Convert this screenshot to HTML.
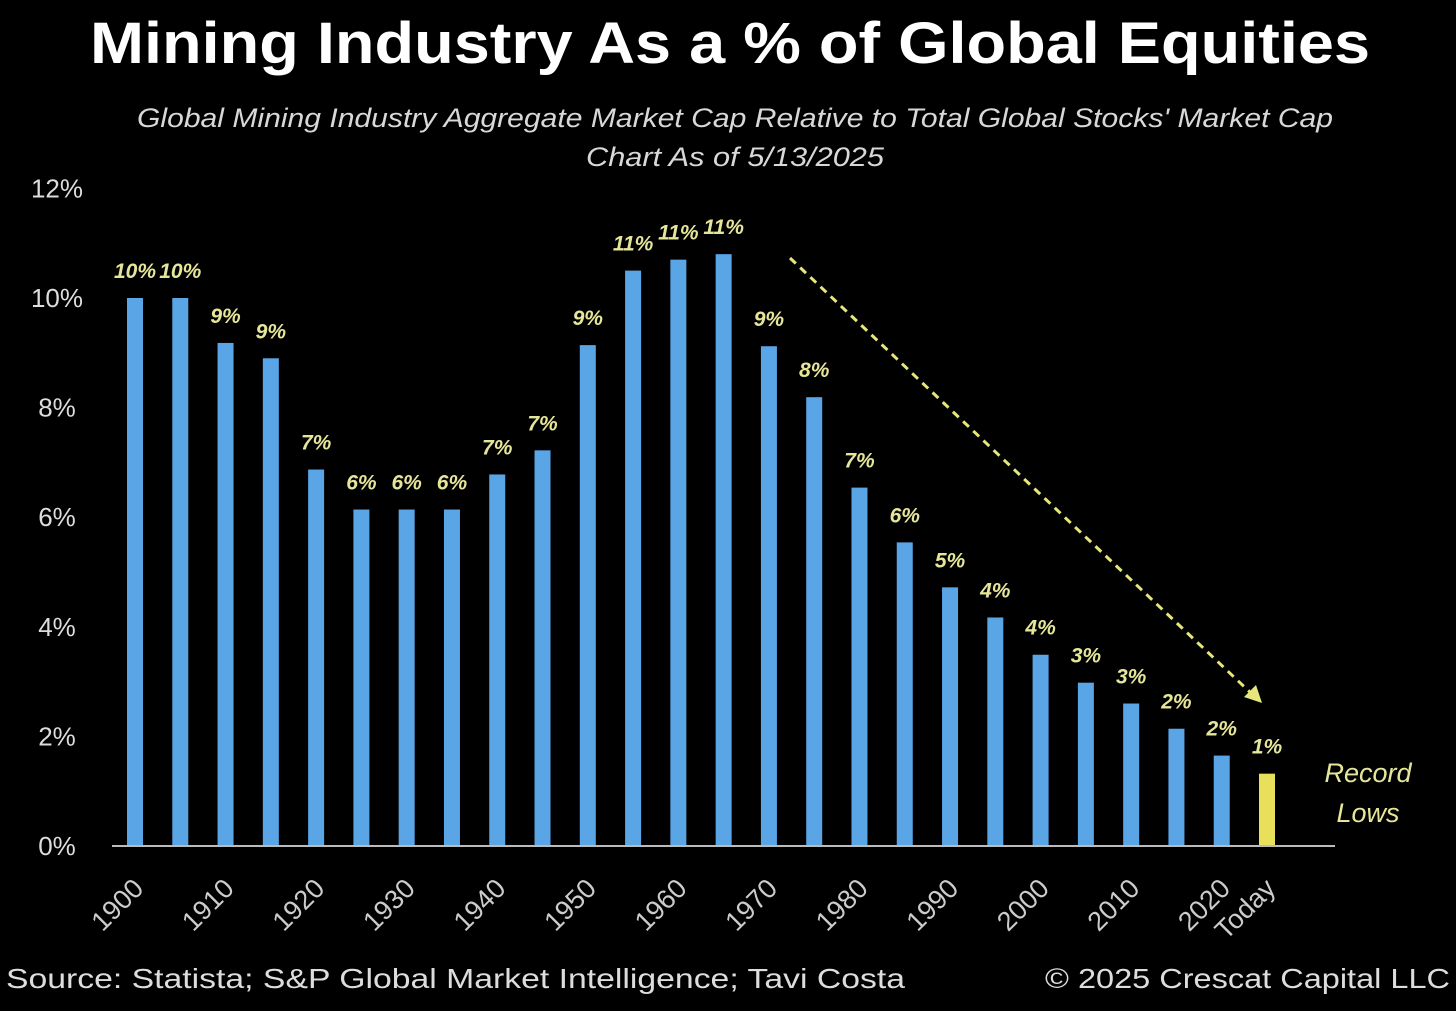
<!DOCTYPE html>
<html><head><meta charset="utf-8">
<style>
html,body{margin:0;padding:0;background:#000;}
body{width:1456px;height:1006px;overflow:hidden;font-family:"Liberation Sans",sans-serif;}
</style></head>
<body>
<svg id="chart" width="1456" height="1006" xmlns="http://www.w3.org/2000/svg">
<rect width="1456" height="1006" fill="#000"/>
<text x="90" y="63" textLength="1280" lengthAdjust="spacingAndGlyphs" fill="#fff" font-weight="bold" font-size="58" font-family="Liberation Sans, sans-serif">Mining Industry As a % of Global Equities</text>
<text x="137" y="127" textLength="1196" lengthAdjust="spacingAndGlyphs" fill="#d8d8d8" font-style="italic" font-size="27">Global Mining Industry Aggregate Market Cap Relative to Total Global Stocks' Market Cap</text>
<text x="586" y="166" textLength="298" lengthAdjust="spacingAndGlyphs" fill="#d8d8d8" font-style="italic" font-size="27">Chart As of 5/13/2025</text>
<g id="yaxis"></g>
<g id="bars"></g>
<g id="xaxis"></g>
<line x1="112" y1="846" x2="1335" y2="846" stroke="#bbb" stroke-width="2"/>
<line x1="790" y1="258" x2="1252" y2="694" stroke="#e6e67a" stroke-width="3" stroke-dasharray="8,6"/>
<polygon points="1262,703 1244,697 1256,685" fill="#e6e67a"/>
<text fill="#e6e69a" font-style="italic" font-size="27" text-anchor="middle"><tspan x="1368" y="782">Record</tspan><tspan x="1368" y="822">Lows</tspan></text>
<text x="6" y="988" textLength="899" lengthAdjust="spacingAndGlyphs" fill="#ddd" font-size="28">Source: Statista; S&amp;P Global Market Intelligence; Tavi Costa</text>
<text x="1045" y="988" textLength="405" lengthAdjust="spacingAndGlyphs" fill="#ddd" font-size="28">© 2025 Crescat Capital LLC</text>
</svg>
<script>
const categories=["1900","1905","1910","1915","1920","1925","1930","1935","1940","1945","1950","1955","1960","1965","1970","1975","1980","1985","1990","1995","2000","2005","2010","2015","2020","Today"];
const values=[10.0,10.0,9.18,8.9,6.87,6.14,6.14,6.14,6.78,7.22,9.14,10.5,10.7,10.8,9.12,8.19,6.54,5.54,4.72,4.17,3.49,2.98,2.6,2.14,1.65,1.32];
const valueLabels=["10%","10%","9%","9%","7%","6%","6%","6%","7%","7%","9%","11%","11%","11%","9%","8%","7%","6%","5%","4%","4%","3%","3%","2%","2%","1%"];
const xTickLabels=["1900","","1910","","1920","","1930","","1940","","1950","","1960","","1970","","1980","","1990","","2000","","2010","","2020","Today"];
const yTicks=[0,2,4,6,8,10,12];
const NS="http://www.w3.org/2000/svg";
function y(v){return 846-v*54.8;}
function x(i){return 135+i*45.28;}
function mk(tag,attrs,parent){const e=document.createElementNS(NS,tag);for(const k in attrs)e.setAttribute(k,attrs[k]);parent.appendChild(e);return e;}
const ya=document.getElementById('yaxis'),bg=document.getElementById('bars'),xa=document.getElementById('xaxis');
yTicks.forEach(t=>{
  const el=mk('text',{x:57,y:y(t)+9,'text-anchor':'middle',fill:'#ddd','font-size':'26'},ya);
  
  
  el.textContent=t+'%';
});
values.forEach((v,i)=>{
  const last=i===values.length-1;
  const r=mk('rect',{x:x(i)-8,y:y(v),width:16,height:846-y(v),fill:last?'#e8e05a':'#5aa5e6'},bg);
  
  
  const t=mk('text',{x:x(i),y:y(v)-20,'text-anchor':'middle',fill:'#e6e69a','font-size':'21','font-weight':'bold','font-style':'italic'},bg);
  
  
  t.textContent=valueLabels[i];
});
xTickLabels.forEach((l,i)=>{
  if(!l)return;
  const cx=x(i)+10,cy=890;
  const t=mk('text',{x:cx,y:cy,'text-anchor':'end',fill:'#ccc','font-size':'27',transform:'rotate(-45 '+cx+' '+cy+')'},xa);
  
  
  t.textContent=l;
});
</script>
</body></html>
